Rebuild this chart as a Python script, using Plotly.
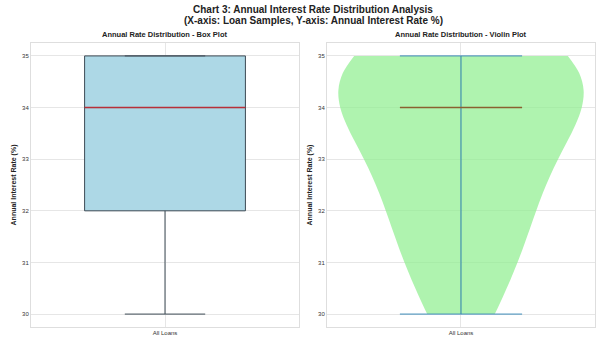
import numpy as np
import plotly.graph_objects as go

# ---- data ----
categories = ["All Loans"]
rates = [30, 30.5, 31, 31.5, 32, 32, 32.5, 33, 33, 33.5, 34, 34, 34, 34, 34.5,
         35, 35, 35, 35, 35, 35]
y_ticks = [30, 31, 32, 33, 34, 35]

r = np.array(rates, dtype=float)
q1, med, q3 = np.percentile(r, [25, 50, 75])
iqr = q3 - q1
lo = r[r >= q1 - 1.5 * iqr].min()
hi = r[r <= q3 + 1.5 * iqr].max()

fig = go.Figure()

# left: box plot
fig.add_trace(go.Box(
    x=[0], q1=[q1], median=[med], q3=[q3], lowerfence=[lo], upperfence=[hi],
    width=0.6, whiskerwidth=0.5, fillcolor="#ADD8E6",
    line=dict(color="#3d4a55", width=1), xaxis="x", yaxis="y",
    showlegend=False, hoverinfo="skip"))
fig.add_trace(go.Scatter(
    x=[-0.3, 0.3], y=[med, med], mode="lines", line=dict(color="#b8303a", width=1.5),
    xaxis="x", yaxis="y", showlegend=False, hoverinfo="skip"))

# right: violin plot
fig.add_trace(go.Violin(
    x0=0, y=rates, width=0.915, spanmode="hard", bandwidth=1.0,
    fillcolor="rgba(144,238,144,0.72)", line=dict(width=0),
    points=False, box_visible=False, meanline_visible=False,
    xaxis="x2", yaxis="y2", showlegend=False, hoverinfo="skip"))
cw = 0.228
fig.add_trace(go.Scatter(
    x=[0, 0], y=[r.min(), r.max()], mode="lines", line=dict(color="#2f7fb0", width=1),
    xaxis="x2", yaxis="y2", showlegend=False, hoverinfo="skip"))
for v in (r.min(), r.max()):
    fig.add_trace(go.Scatter(
        x=[-cw, cw], y=[v, v], mode="lines", line=dict(color="#3b8ab8", width=1),
        xaxis="x2", yaxis="y2", showlegend=False, hoverinfo="skip"))
fig.add_trace(go.Scatter(
    x=[-cw, cw], y=[med, med], mode="lines", line=dict(color="#8a6030", width=1.5),
    xaxis="x2", yaxis="y2", showlegend=False, hoverinfo="skip"))

font = "Liberation Sans, Arial, sans-serif"
ax_common = dict(showline=True, mirror=True, linecolor="#dedede", linewidth=1,
                 showgrid=True, gridcolor="#e6e6e6", gridwidth=1, zeroline=False,
                 ticks="", tickfont=dict(size=6, color="#333", family=font))
xcommon = dict(ax_common, range=[-0.5, 0.5], tickvals=[0], ticktext=categories)
ycommon = dict(ax_common, range=[29.75, 35.25], tickvals=y_ticks,
               title=dict(text="<b>Annual Interest Rate (%)</b>",
                          font=dict(size=7, color="#222", family=font), standoff=4))

fig.update_layout(
    width=600, height=347, margin=dict(l=31, r=5, t=43, b=20),
    paper_bgcolor="white", plot_bgcolor="white",
    xaxis=dict(xcommon, domain=[0, 0.4752], anchor="y"),
    yaxis=dict(ycommon, anchor="x"),
    xaxis2=dict(xcommon, domain=[0.5248, 1], anchor="y2"),
    yaxis2=dict(ycommon, anchor="x2"),
    annotations=[
        dict(text="<b>Chart 3: Annual Interest Rate Distribution Analysis</b>",
             x=0.5, y=1.1162, xref="paper", yref="paper", xanchor="center", yanchor="middle",
             showarrow=False, font=dict(size=10, color="#222", family=font)),
        dict(text="<b>(X-axis: Loan Samples, Y-axis: Annual Interest Rate %)</b>",
             x=0.5, y=1.0775, xref="paper", yref="paper", xanchor="center", yanchor="middle",
             showarrow=False, font=dict(size=10, color="#222", family=font)),
        dict(text="<b>Annual Rate Distribution - Box Plot</b>", x=0.2376, y=1.0,
             xref="paper", yref="paper", xanchor="center", yanchor="bottom", yshift=2,
             showarrow=False, font=dict(size=7.5, color="#222", family=font)),
        dict(text="<b>Annual Rate Distribution - Violin Plot</b>", x=0.7624, y=1.0,
             xref="paper", yref="paper", xanchor="center", yanchor="bottom", yshift=2,
             showarrow=False, font=dict(size=7.5, color="#222", family=font)),
    ],
)
fig.write_html("out.html")
